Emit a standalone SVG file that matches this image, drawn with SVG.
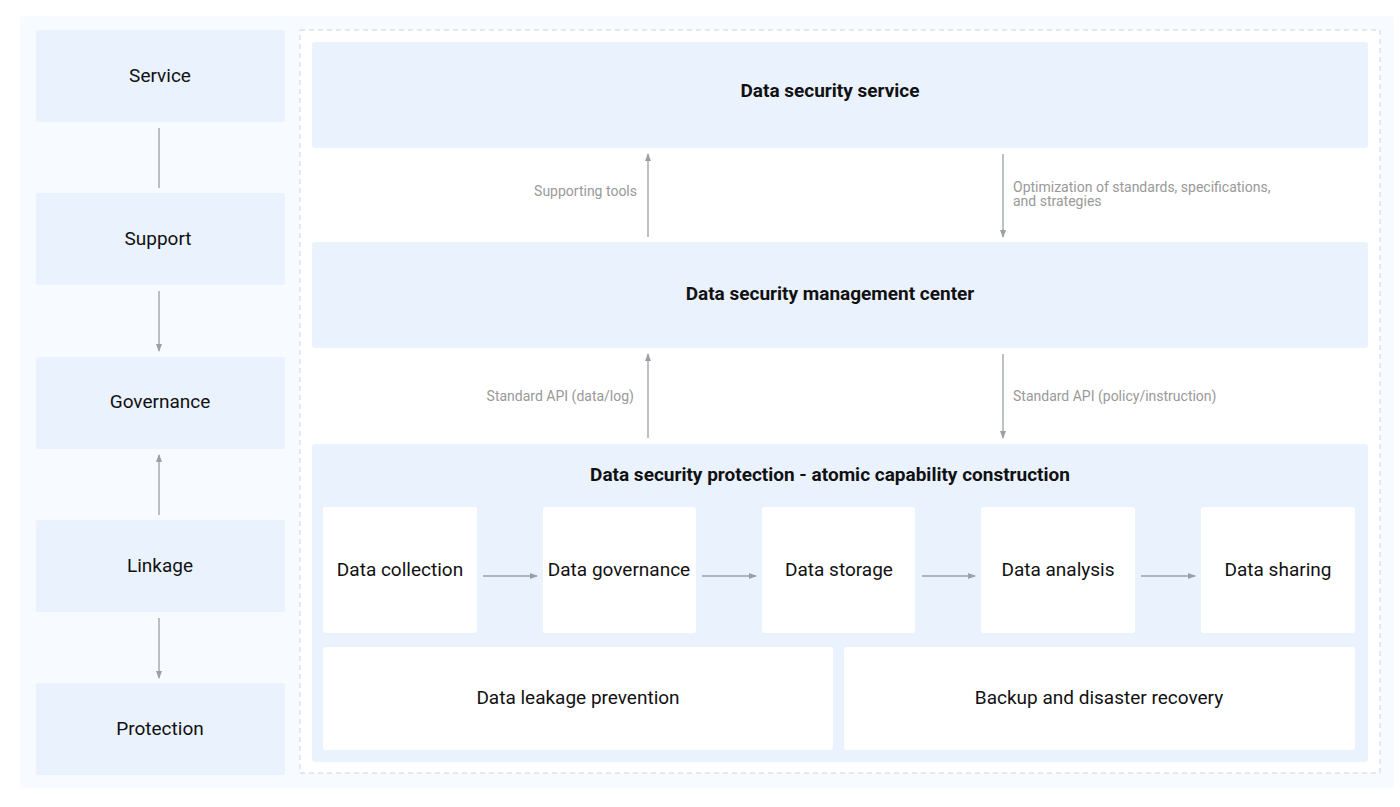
<svg xmlns="http://www.w3.org/2000/svg" width="1400" height="807" viewBox="0 0 1400 807">
<defs>
<marker id="ah" markerWidth="8" markerHeight="8" refX="7" refY="4" orient="auto" markerUnits="userSpaceOnUse"><path d="M0,1 L8,4 L0,7 Z" fill="#9aa0a6"/></marker>
<style>
.n{fill:#eaf2fe}
.w{fill:#fff}
.t{font-family:Roboto,"Liberation Sans",sans-serif;font-size:19px;fill:#111;text-anchor:middle;dominant-baseline:central}
.b{font-weight:bold;font-size:19px}
.l{font-family:Roboto,"Liberation Sans",sans-serif;font-size:14px;fill:#999}
.c{stroke:#9aa0a6;stroke-width:1.3;fill:none}
</style>
</defs>
<rect width="1400" height="807" fill="#fff"/>
<rect x="20" y="16" width="1374" height="772" rx="4" fill="#f7faff"/>
<rect x="300" y="30" width="1080" height="743" fill="#fff" stroke="#cfd3d8" stroke-dasharray="5,4"/>
<g id="service"><rect class="n" x="36" y="30" width="249" height="92" rx="3"/><text class="t" x="160" y="75">Service</text></g>
<g id="support"><rect class="n" x="36" y="193" width="249" height="92" rx="3"/><text class="t" x="158" y="238">Support</text></g>
<g id="governance"><rect class="n" x="36" y="357" width="249" height="92" rx="3"/><text class="t" x="160" y="401">Governance</text></g>
<g id="linkage"><rect class="n" x="36" y="520" width="249" height="92" rx="3"/><text class="t" x="160" y="565">Linkage</text></g>
<g id="protection"><rect class="n" x="36" y="683" width="249" height="92" rx="3"/><text class="t" x="160" y="728">Protection</text></g>
<g id="dss"><rect class="n" x="312" y="42" width="1056" height="106" rx="3"/><text class="t b" x="830" y="90">Data security service</text></g>
<g id="dsmc"><rect class="n" x="312" y="242" width="1056" height="106" rx="3"/><text class="t b" x="830" y="293">Data security management center</text></g>
<g id="dsp"><rect class="n" x="312" y="444" width="1056" height="318" rx="3"/><text class="t b" x="830" y="474">Data security protection - atomic capability construction</text></g>
<g id="collection"><rect class="w" x="323" y="507" width="154" height="126" rx="3"/><text class="t" x="400" y="569">Data collection</text></g>
<g id="dgov"><rect class="w" x="543" y="507" width="153" height="126" rx="3"/><text class="t" x="619" y="569">Data governance</text></g>
<g id="storage"><rect class="w" x="762" y="507" width="153" height="126" rx="3"/><text class="t" x="839" y="569">Data storage</text></g>
<g id="analysis"><rect class="w" x="981" y="507" width="154" height="126" rx="3"/><text class="t" x="1058" y="569">Data analysis</text></g>
<g id="sharing"><rect class="w" x="1201" y="507" width="154" height="126" rx="3"/><text class="t" x="1278" y="569">Data sharing</text></g>
<g id="leakage"><rect class="w" x="323" y="647" width="510" height="103" rx="3"/><text class="t" x="578" y="697">Data leakage prevention</text></g>
<g id="backup"><rect class="w" x="844" y="647" width="511" height="103" rx="3"/><text class="t" x="1099" y="697">Backup and disaster recovery</text></g>
<g id="connectors">
<line class="c" x1="159" y1="128" x2="159" y2="188"/>
<line class="c" x1="159" y1="291" x2="159" y2="351" marker-end="url(#ah)"/>
<line class="c" x1="159" y1="515" x2="159" y2="455" marker-end="url(#ah)"/>
<line class="c" x1="159" y1="618" x2="159" y2="678" marker-end="url(#ah)"/>
<line class="c" x1="648" y1="237" x2="648" y2="154" marker-end="url(#ah)"/>
<line class="c" x1="1003" y1="154" x2="1003" y2="237" marker-end="url(#ah)"/>
<line class="c" x1="648" y1="438" x2="648" y2="354" marker-end="url(#ah)"/>
<line class="c" x1="1003" y1="354" x2="1003" y2="438" marker-end="url(#ah)"/>
<line class="c" x1="483" y1="576" x2="537" y2="576" marker-end="url(#ah)"/>
<line class="c" x1="702" y1="576" x2="756" y2="576" marker-end="url(#ah)"/>
<line class="c" x1="922" y1="576" x2="975" y2="576" marker-end="url(#ah)"/>
<line class="c" x1="1141" y1="576" x2="1195" y2="576" marker-end="url(#ah)"/>
<text class="l" x="637" y="196" text-anchor="end">Supporting tools</text>
<text class="l" x="1013" y="192">Optimization of standards, specifications,</text>
<text class="l" x="1013" y="206">and strategies</text>
<text class="l" x="634" y="401" text-anchor="end">Standard API (data/log)</text>
<text class="l" x="1013" y="401">Standard API (policy/instruction)</text>
</g>
</svg>
